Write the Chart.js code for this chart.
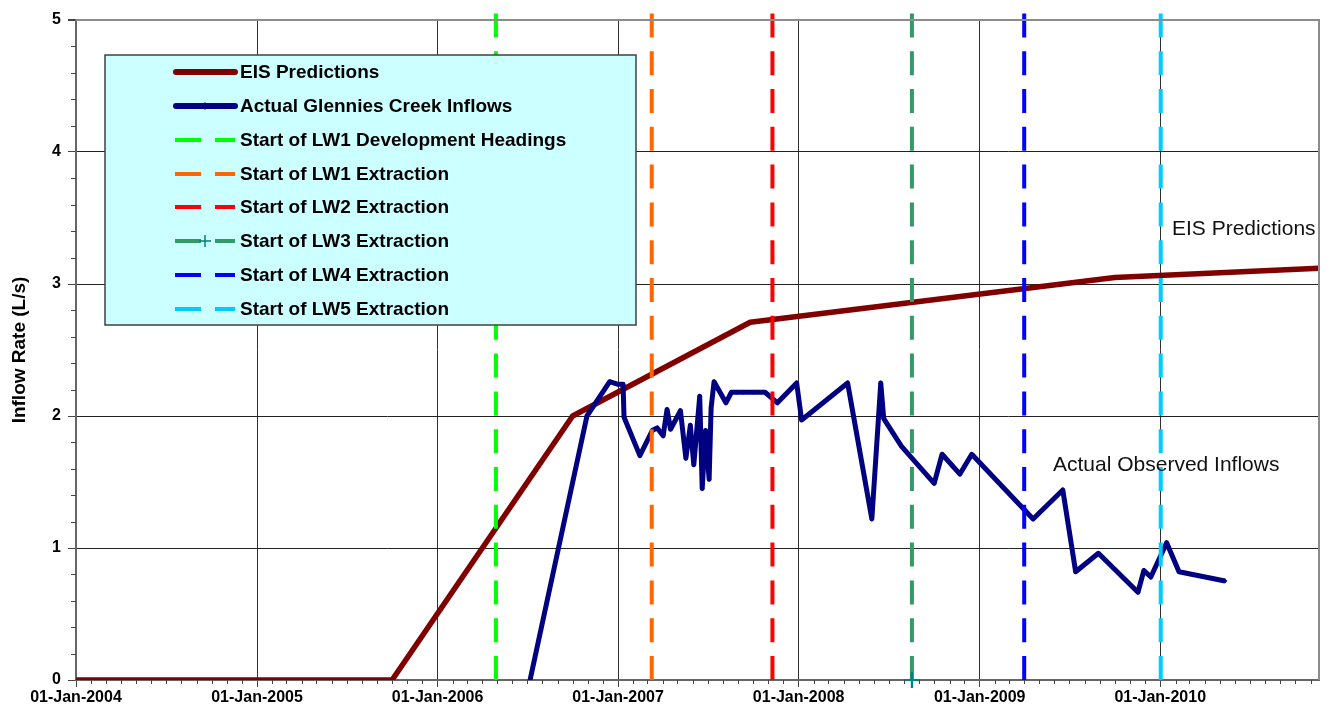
<!DOCTYPE html>
<html><head><meta charset="utf-8">
<script src="https://cdn.jsdelivr.net/npm/chart.js@4.4.1/dist/chart.umd.min.js"></script>
<style>html,body{margin:0;padding:0;background:#fff}#wrap{width:1332px;height:720px}</style>
</head><body><div id="wrap"><canvas id="c" width="1332" height="720"></canvas></div>
<script>
// ---------- data ----------
const eisDates  = ['2004-01-01','2005-10-01','2006-10-01','2007-09-25','2009-10-01','2010-11-18'];
const eisValues = [0, 0, 2.0, 2.71, 3.05, 3.12];

const actualDates = ['2006-07-07','2006-10-30','2006-12-15','2007-01-01','2007-01-11','2007-01-13','2007-02-14',
  '2007-03-11','2007-03-21','2007-04-02','2007-04-10','2007-04-17','2007-05-07','2007-05-18','2007-05-27',
  '2007-06-03','2007-06-15','2007-06-20','2007-06-27','2007-07-04','2007-07-08','2007-07-14','2007-08-07',
  '2007-08-18','2007-08-29','2007-09-11','2007-10-01','2007-10-25','2007-11-19','2007-12-28','2008-01-07',
  '2008-04-09','2008-05-28','2008-06-15','2008-06-21','2008-07-27','2008-10-01','2008-10-17','2008-11-22',
  '2008-12-16','2009-04-19','2009-06-18','2009-07-14','2009-08-29','2009-11-17','2009-11-29','2009-12-13',
  '2010-01-14','2010-02-08','2010-05-12'];
const actualValues = [0, 2.0, 2.26, 2.24, 2.24, 1.99, 1.70,
  1.89, 1.91, 1.85, 2.05, 1.90, 2.04, 1.68, 1.93,
  1.63, 2.15, 1.45, 1.89, 1.52, 2.06, 2.26, 2.10,
  2.18, 2.18, 2.18, 2.18, 2.18, 2.10, 2.25, 1.97,
  2.25, 1.22, 2.25, 1.98, 1.77, 1.49, 1.71, 1.56,
  1.71, 1.22, 1.44, 0.82, 0.96, 0.665, 0.83, 0.78,
  1.04, 0.82, 0.75];

const eventLabels = ['Start of LW1 Development Headings','Start of LW1 Extraction','Start of LW2 Extraction',
  'Start of LW3 Extraction','Start of LW4 Extraction','Start of LW5 Extraction'];
const eventDates  = ['2006-04-29','2007-03-10','2007-11-09','2008-08-17','2009-04-01','2010-01-02'];
const eventColors = ['#00FF00','#FF6600','#FF0000','#339966','#0000FF','#00CCFF'];
const eventTop = 5.05;

const yearTicks = [2004,2005,2006,2007,2008,2009,2010];
const axisMinDate = '2004-01-01';
const axisMaxDate = '2010-11-18';
const yTicks = [0,1,2,3,4,5];

// ---------- helpers ----------
const FONT = "'Liberation Sans', Arial, Helvetica, sans-serif";
function day(s){ const [y,m,d] = s.split('-').map(Number); return Date.UTC(y, m-1, d) / 86400000; }
function yearDay(y){ return Date.UTC(y,0,1)/86400000; }

const datasets = [
  { label:'EIS Predictions', data: eisDates.map((d,i)=>({x:day(d), y:eisValues[i]})),
    borderColor:'#800000', backgroundColor:'#800000', borderWidth:5.5, pointRadius:0, order:3,
    borderJoinStyle:'round', tension:0 },
  { label:'Actual Glennies Creek Inflows', data: actualDates.map((d,i)=>({x:day(d), y:actualValues[i]})),
    borderColor:'#000080', backgroundColor:'#000080', borderWidth:5, pointRadius:2.4, pointStyle:'rectRot',
    pointBackgroundColor:'#000080', pointBorderWidth:0, order:2, borderJoinStyle:'round', tension:0 }
];
eventDates.forEach((d,i)=>{
  const isLW3 = i === 3;
  datasets.push({ label:eventLabels[i], data:[{x:day(d), y:eventTop},{x:day(d), y:0}],
    borderColor:eventColors[i], backgroundColor:eventColors[i], borderWidth:4, borderDash:[24,13.8],
    pointRadius: isLW3 ? [0,8] : 0, pointStyle:'cross', pointBorderColor:'#008080', pointBorderWidth:2.2,
    order:1, clip:false, tension:0, legendMarker: isLW3 });
});

const extras = {
  id:'extras',
  beforeDatasetsDraw(chart){
    const ctx = chart.ctx;
    ctx.save();
    ctx.fillStyle = '#fff';
    ctx.fillRect(1047, 446, 242, 38);
    ctx.restore();
  },
  afterDraw(chart){
    const ctx = chart.ctx, ca = chart.chartArea;
    const xs = chart.scales.x, ys = chart.scales.y;
    ctx.save();
    // top & right plot border
    ctx.strokeStyle = '#8c8c8c'; ctx.lineWidth = 2;
    ctx.beginPath(); ctx.moveTo(ca.left, ca.top); ctx.lineTo(ca.right, ca.top); ctx.lineTo(ca.right, ca.bottom); ctx.stroke();
    // minor ticks x (monthly)
    ctx.strokeStyle = '#444'; ctx.lineWidth = 1;
    ctx.beginPath();
    for (let y=2004; y<=2010; y++) for (let m=0; m<12; m++){
      const v = Date.UTC(y,m,1)/86400000;
      if (v > xs.max || m === 0) continue;
      const px = Math.round(xs.getPixelForValue(v)) + 0.5;
      ctx.moveTo(px, ca.bottom); ctx.lineTo(px, ca.bottom + 4);
    }
    // minor ticks y (0.2)
    for (let k=1; k<25; k++){
      if (k % 5 === 0) continue;
      const py = Math.round(ys.getPixelForValue(k*0.2)) + 0.5;
      ctx.moveTo(ca.left - 5, py); ctx.lineTo(ca.left, py);
    }
    ctx.stroke();
    // annotations
    ctx.fillStyle = '#111'; ctx.font = '21px ' + FONT; ctx.textBaseline = 'middle'; ctx.textAlign = 'left';
    ctx.fillText('EIS Predictions', 1172, 229);
    ctx.fillText('Actual Observed Inflows', 1053, 465);
    // legend box
    const L = 105, T = 55, R = 636, B = 325;
    ctx.fillStyle = '#CCFFFF'; ctx.fillRect(L, T, R-L, B-T);
    ctx.strokeStyle = '#404040'; ctx.lineWidth = 1.5; ctx.strokeRect(L, T, R-L, B-T);
    ctx.font = 'bold 19px ' + FONT; ctx.textBaseline = 'middle';
    chart.data.datasets.forEach((ds, i)=>{
      const ry = Math.round(72 + i*33.85);
      ctx.save();
      ctx.strokeStyle = ds.borderColor;
      ctx.lineWidth = i < 2 ? 6 : 4;
      ctx.lineCap = i < 2 ? 'round' : 'butt';
      ctx.setLineDash(i < 2 ? [] : [26,14]);
      ctx.beginPath(); ctx.moveTo(i < 2 ? 176 : 175, ry); ctx.lineTo(235, ry); ctx.stroke();
      ctx.setLineDash([]);
      if (i === 1){
        ctx.fillStyle = ds.borderColor;
        ctx.beginPath(); ctx.moveTo(205, ry-4); ctx.lineTo(208, ry); ctx.lineTo(205, ry+4); ctx.lineTo(202, ry); ctx.closePath(); ctx.fill();
      }
      if (ds.legendMarker){
        ctx.strokeStyle = '#008080'; ctx.lineWidth = 1.5;
        ctx.beginPath(); ctx.moveTo(199, ry); ctx.lineTo(211, ry); ctx.moveTo(205, ry-6); ctx.lineTo(205, ry+6); ctx.stroke();
      }
      ctx.restore();
      ctx.fillStyle = '#000';
      ctx.fillText(ds.label, 240, ry + 1);
    });
    ctx.restore();
  }
};

new Chart(document.getElementById('c'), {
  type:'line',
  data:{ datasets },
  plugins:[extras],
  options:{
    responsive:false, animation:false, devicePixelRatio:1,
    layout:{ padding:{ top:20, right:13, left:0, bottom:0 } },
    plugins:{ legend:{display:false}, tooltip:{enabled:false} },
    scales:{
      x:{
        type:'linear', min:day(axisMinDate), max:day(axisMaxDate),
        afterBuildTicks(scale){ scale.ticks = yearTicks.map(y=>({value:yearDay(y)})); },
        afterFit(scale){ scale.height = 40; },
        ticks:{ autoSkip:false, maxRotation:0, padding:1, color:'#000',
          font:{family:FONT, size:16, weight:'bold'},
          callback(v){ return '01-Jan-' + new Date(v*86400000).getUTCFullYear(); } },
        grid:{ color:'#303030', lineWidth:1, tickLength:7, tickColor:'#444' },
        border:{ color:'#666', width:2 }
      },
      y:{
        min:0, max:5,
        afterBuildTicks(scale){ scale.ticks = yTicks.map(v=>({value:v})); },
        afterFit(scale){ scale.width = 76; },
        ticks:{ padding:7, color:'#000', font:{family:FONT, size:16, weight:'bold'} },
        grid:{ color:(c)=> c.tick && c.tick.value === 5 ? '#8c8c8c' : '#222',
               lineWidth:(c)=> c.tick && c.tick.value === 5 ? 2 : 1, tickLength:8, tickColor:'#444' },
        border:{ color:'#666', width:2 },
        title:{ display:true, text:'Inflow Rate (L/s)', color:'#000', padding:{top:8, bottom:0},
          font:{family:FONT, size:19, weight:'bold'} }
      }
    }
  }
});
</script></body></html>
